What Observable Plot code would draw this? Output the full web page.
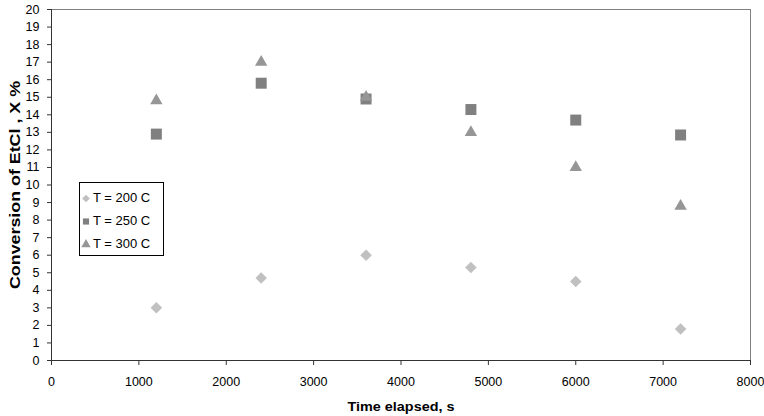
<!DOCTYPE html>
<html>
<head>
<meta charset="utf-8">
<script src="https://cdn.jsdelivr.net/npm/d3@7"></script>
<script src="https://cdn.jsdelivr.net/npm/@observablehq/plot@0.6"></script>
<style>
  html, body { margin: 0; padding: 0; background: #fff; }
  #chart { position: relative; width: 764px; height: 416px; font-family: "Liberation Sans", Arial, sans-serif; }
  #legend { position: absolute; left: 79px; top: 182px; width: 85px; height: 74px;
            border: 1px solid #000; background: #fff; box-sizing: border-box; padding-top: 3px; }
  .item { display: flex; align-items: center; height: 23px; font-size: 13px; color: #000; }
  .item svg { margin-right: 1px; }
</style>
</head>
<body>
<div id="chart"></div>
<script>
// Conversion of EtCl over time at three reactor temperatures
const times = [1200, 2400, 3600, 4800, 6000, 7200];
const seriesNames = ["T = 200 C", "T = 250 C", "T = 300 C"];
const conv200 = [3.0, 4.7, 6.0, 5.3, 4.5, 1.8];
const conv250 = [12.9, 15.8, 14.9, 14.3, 13.7, 12.85];
const conv300 = [14.8, 17.0, 15.0, 13.0, 11.0, 8.8];
const xTicks = [0, 1000, 2000, 3000, 4000, 5000, 6000, 7000, 8000];
const yTicks = d3.range(0, 21, 1);
const xTitle = "Time elapsed, s";
const yTitle = "Conversion of EtCl , X %";

const symbols = ["diamond2", "square", "triangle"];
const fills = ["#c0c0c0", "#808080", "#969696"];
const radii = [5.2, 6.2, 4.6];

const seriesValues = [conv200, conv250, conv300];
const rows = seriesValues.flatMap((vals, i) =>
  vals.map((v, j) => ({ t: times[j], x: v, series: seriesNames[i] })));

const plot = Plot.plot({
  width: 764,
  height: 416,
  marginLeft: 51,
  marginRight: 14,
  marginTop: 9,
  marginBottom: 56,
  style: { fontFamily: "Liberation Sans, Arial, sans-serif", fontSize: "12.5px", color: "#000", background: "#fff" },
  x: { domain: [0, 8000], label: null },
  y: { domain: [0, 20], label: null },
  marks: [
    Plot.frame({ stroke: "#808080" }),
    Plot.ruleY([0], { stroke: "#333" }),
    Plot.ruleX([0], { stroke: "#333" }),
    Plot.axisX({ ticks: xTicks, tickSize: 5, tickPadding: 12, stroke: "#333", tickFormat: d => String(d) }),
    Plot.axisY({ ticks: yTicks, tickSize: 4, tickPadding: 8, stroke: "#333", tickFormat: d => String(d) }),
    ...seriesNames.map((name, i) =>
      Plot.dot(rows.filter(d => d.series === name), {
        x: "t", y: "x", symbol: () => symbols[i], fill: fills[i], stroke: "none", r: radii[i]
      })),
    Plot.text([xTitle], { frameAnchor: "bottom", dy: 50, fontWeight: "bold", fontSize: 13.5 }),
    Plot.text([yTitle], { frameAnchor: "left", textAnchor: "middle", dx: -36, rotate: -90, fontWeight: "bold", fontSize: 14 })
  ],
  symbol: { domain: symbols, range: symbols }
});

// Widen the two axis titles to the spread of the printed labels
d3.select(plot).selectAll("text")
  .filter(function () { return this.textContent === xTitle; })
  .attr("textLength", 107).attr("lengthAdjust", "spacingAndGlyphs");
d3.select(plot).selectAll("text")
  .filter(function () { return this.textContent === yTitle; })
  .attr("textLength", 208).attr("lengthAdjust", "spacingAndGlyphs");

const chart = document.getElementById("chart");
chart.appendChild(plot);

// Legend box with series symbols
const legend = document.createElement("div");
legend.id = "legend";
const symbolMap = { diamond2: d3.symbolDiamond2, square: d3.symbolSquare, triangle: d3.symbolTriangle };
seriesNames.forEach((name, i) => {
  const item = document.createElement("div");
  item.className = "item";
  const s = d3.create("svg").attr("width", 12).attr("height", 12);
  s.append("path")
    .attr("transform", "translate(6,6.5)")
    .attr("d", d3.symbol(symbolMap[symbols[i]], 38)())
    .attr("fill", fills[i]);
  item.appendChild(s.node());
  const span = document.createElement("span");
  span.textContent = name;
  item.appendChild(span);
  legend.appendChild(item);
});
chart.appendChild(legend);
</script>
</body>
</html>
